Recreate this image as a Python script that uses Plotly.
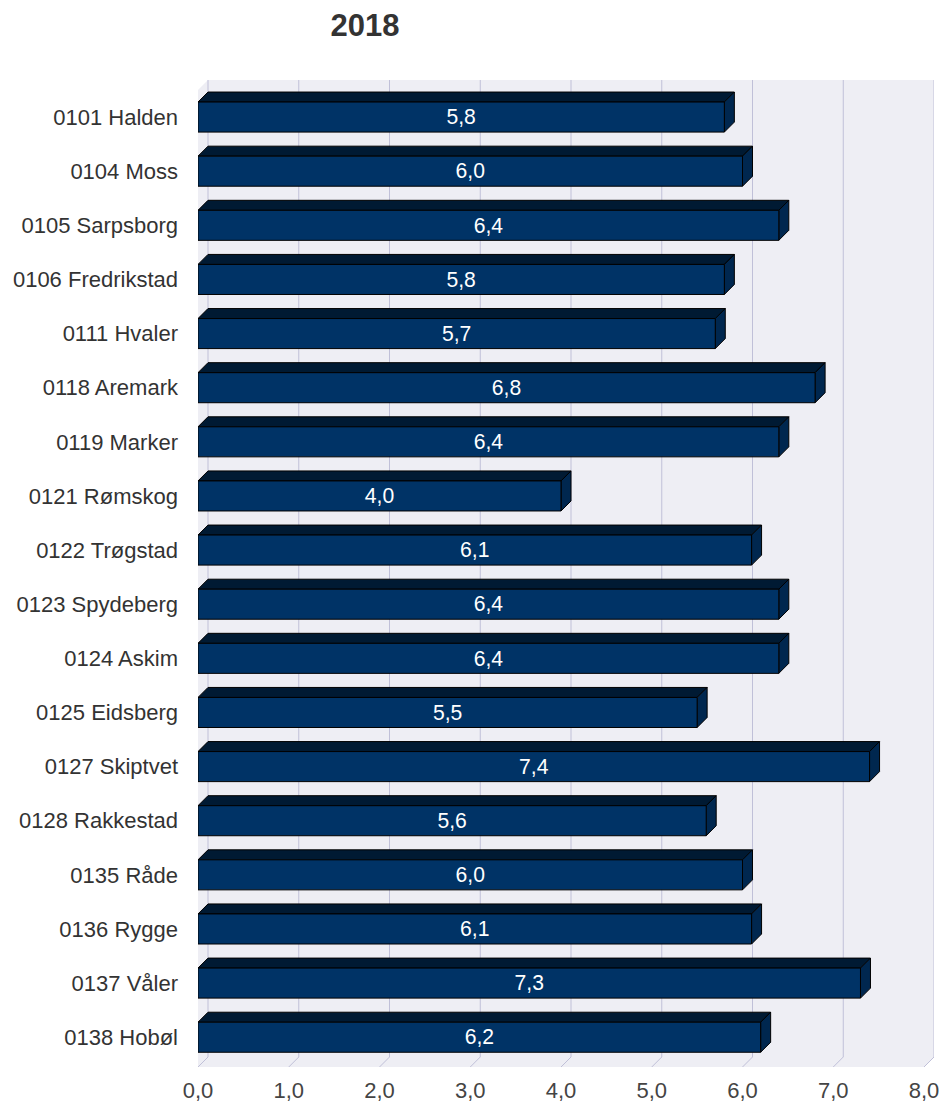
import plotly.graph_objects as go

categories = ["0101 Halden", "0104 Moss", "0105 Sarpsborg", "0106 Fredrikstad", "0111 Hvaler",
              "0118 Aremark", "0119 Marker", "0121 Rømskog", "0122 Trøgstad", "0123 Spydeberg",
              "0124 Askim", "0125 Eidsberg", "0127 Skiptvet", "0128 Rakkestad", "0135 Råde",
              "0136 Rygge", "0137 Våler", "0138 Hobøl"]
values = [5.8, 6.0, 6.4, 5.8, 5.7, 6.8, 6.4, 4.0, 6.1, 6.4, 6.4, 5.5, 7.4, 5.6, 6.0, 6.1, 7.3, 6.2]
x_ticks = [0, 1, 2, 3, 4, 5, 6, 7, 8]
x_tick_labels = ["0,0", "1,0", "2,0", "3,0", "4,0", "5,0", "6,0", "7,0", "8,0"]
title_text = "2018"

W, H = 945, 1104
# layout geometry (pixels)
L, R, T, B = 198, 11, 80, 37
DEPTH = 10  # 3D offset in px
plot_w = W - L - R
plot_h = H - T - B

x_max_front = 8.0
px_per_x = (plot_w - DEPTH) / x_max_front
dx = DEPTH / px_per_x
n = len(categories)
y_top_front = -0.5
y_bot = n - 1 + 0.55
px_per_y = (plot_h - DEPTH) / (y_bot - y_top_front)
dy = DEPTH / px_per_y
y_top_back = y_top_front - dy
x_range = [0, x_max_front + dx]
y_range = [y_bot, y_top_back]
bw = 0.555

FRONT = "#003366"
TOP = "#001a33"
SIDE = "#00274f"
WALL = "#eeeef4"
GRID = "#c0c0d8"
FONT = "Liberation Sans, Arial, sans-serif"

shapes = []
# background walls
shapes.append(dict(type="path", xref="x", yref="y", layer="below",
                   path=f"M 0 {y_top_front} L {dx} {y_top_back} L {x_max_front+dx} {y_top_back} "
                        f"L {x_max_front+dx} {y_bot-dy} L {x_max_front} {y_bot} L 0 {y_bot} Z",
                   fillcolor=WALL, line=dict(width=0)))
# gridlines on back wall + floor
for t in x_ticks:
    shapes.append(dict(type="path", xref="x", yref="y", layer="below",
                       path=f"M {t+dx} {y_top_back} L {t+dx} {y_bot-dy} L {t} {y_bot}",
                       line=dict(color=GRID, width=1)))
# 3D faces of bars
for i, v in enumerate(values):
    yt = i - bw / 2
    yb = i + bw / 2
    shapes.append(dict(type="path", xref="x", yref="y", layer="below",
                       path=f"M 0 {yt} L {dx} {yt-dy} L {v+dx} {yt-dy} L {v} {yt} Z",
                       fillcolor=TOP, line=dict(color="#000000", width=1)))
    shapes.append(dict(type="path", xref="x", yref="y", layer="below",
                       path=f"M {v} {yt} L {v+dx} {yt-dy} L {v+dx} {yb-dy} L {v} {yb} Z",
                       fillcolor=SIDE, line=dict(color="#000000", width=1)))

texts = [f"{v:.1f}".replace(".", ",") for v in values]

fig = go.Figure()
fig.add_trace(go.Bar(
    x=values, y=list(range(n)), orientation="h", width=bw,
    marker=dict(color=FRONT, line=dict(color="#000000", width=1)),
    text=texts, textposition="inside", insidetextanchor="middle", textangle=0,
    textfont=dict(color="#ffffff", size=22, family=FONT),
    hoverinfo="skip", cliponaxis=False,
))

fig.update_layout(
    width=W, height=H,
    margin=dict(l=L, r=R, t=T, b=B, autoexpand=False),
    plot_bgcolor="#ffffff", paper_bgcolor="#ffffff",
    showlegend=False,
    shapes=shapes,
    font=dict(family=FONT, color="#444444"),
    title=dict(text=f"<b>{title_text}</b>", xref="container", yref="container",
               x=365 / W, y=1 - 25 / H, xanchor="center", yanchor="middle",
               font=dict(size=31, color="#333333", family=FONT)),
    xaxis=dict(range=x_range, tickvals=x_ticks, ticktext=x_tick_labels, showgrid=False,
               zeroline=False, showline=False, ticks="", tickfont=dict(size=22, color="#444444"),
               ticklabelstandoff=8, fixedrange=True),
    yaxis=dict(range=y_range, tickvals=list(range(n)), ticktext=categories, showgrid=False,
               zeroline=False, showline=False, ticks="", tickfont=dict(size=22, color="#333333"),
               ticklabelstandoff=19, fixedrange=True),
)

fig.write_html("out.html", config={"displayModeBar": False},
               post_script="document.body.style.margin='0';")
